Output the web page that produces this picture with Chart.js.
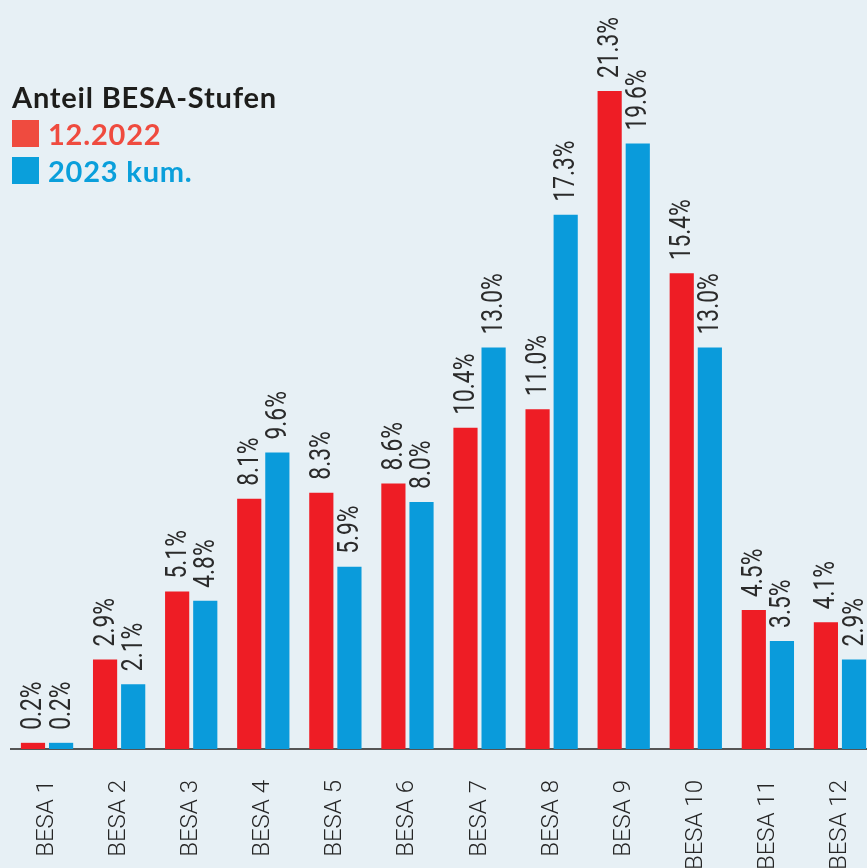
<!DOCTYPE html>
<html>
<head>
<meta charset="utf-8">
<script src="https://cdn.jsdelivr.net/npm/chart.js@4/dist/chart.umd.min.js"></script>
<style>
  html, body { margin: 0; padding: 0; background: #e7f0f5; overflow: hidden; }
  #wrap { position: relative; width: 867px; height: 868px; overflow: hidden; }
  #chart_box { position: absolute; left: 0; top: 0; width: 876px; height: 868px; }
  #legend { position: absolute; left: 12px; top: 78px; font-family: Lato, "Open Sans", sans-serif; font-weight: 700; font-size: 29px; line-height: 37px; letter-spacing: 0.8px; }
  #legend .title { color: #1d1d1b; }
  #legend .row { display: flex; align-items: center; }
  #legend .sq { display: inline-block; width: 27px; height: 27px; margin-right: 9px; }
</style>
</head>
<body>
<div id="wrap">
  <div id="chart_box"><canvas id="chart_1" width="876" height="868"></canvas></div>
  <div id="legend">
    <div class="title">Anteil BESA-Stufen</div>
    <div class="row" style="color:#ef4b3f"><span class="sq" style="background:#ef4b3f"></span>12.2022</div>
    <div class="row" style="color:#0a9fdb"><span class="sq" style="background:#0a9fdb"></span>2023 kum.</div>
  </div>
</div>
<script>
    const labels = ['BESA 1', 'BESA 2', 'BESA 3', 'BESA 4', 'BESA 5', 'BESA 6', 'BESA 7', 'BESA 8', 'BESA 9', 'BESA 10', 'BESA 11', 'BESA 12'];
    const values_2022 = [0.2, 2.9, 5.1, 8.1, 8.3, 8.6, 10.4, 11.0, 21.3, 15.4, 4.5, 4.1];
    const values_2023 = [0.2, 2.1, 4.8, 9.6, 5.9, 8.0, 13.0, 17.3, 19.6, 13.0, 3.5, 2.9];
    const series_names = ['12.2022', '2023 kum.'];

    //draws the rotated percent labels above each bar (condensed look)
    const value_labels = {
        id: 'value_labels',
        afterDatasetsDraw(chart) {
            const ctx = chart.ctx;
            ctx.save();
            ctx.font = '30px Roboto';
            ctx.fillStyle = '#2b2b2b';
            ctx.textAlign = 'left';
            ctx.textBaseline = 'middle';
            chart.data.datasets.forEach((ds, i) => {
                chart.getDatasetMeta(i).data.forEach((bar, j) => {
                    ctx.save();
                    ctx.translate(bar.x, bar.y - 13);
                    ctx.rotate(-Math.PI / 2);
                    ctx.scale(0.76, 1);
                    ctx.fillText(ds.data[j].toFixed(1) + '%', 0, 1);
                    ctx.restore();
                });
            });
            ctx.restore();
        }
    };

    const ctx = document.getElementById('chart_1').getContext('2d');
    const chart = new Chart(ctx, {
        type: 'bar',
        data: {
            labels: labels,
            datasets: [
                { label: series_names[0], data: values_2022, backgroundColor: '#ee1d25' },
                { label: series_names[1], data: values_2023, backgroundColor: '#0a9bdb' }
            ]
        },
        options: {
            responsive: false,
            animation: false,
            layout: { padding: { left: 11, right: 0, top: 0, bottom: 0 } },
            categoryPercentage: 0.78,
            barPercentage: 0.86,
            plugins: { legend: { display: false }, tooltip: { enabled: false } },
            scales: {
                y: { display: false, min: 0, max: 24.25 },
                x: {
                    grid: { display: false, drawTicks: false },
                    border: { color: '#555', width: 2 },
                    ticks: {
                        autoSkip: false,
                        minRotation: 90,
                        maxRotation: 90,
                        padding: 31,
                        color: '#262626',
                        font: { family: 'Roboto', size: 24, weight: '300' }
                    },
                    afterFit: s => { s.height = 119; s.paddingLeft = 0; s.paddingRight = 0; }
                }
            }
        },
        plugins: [value_labels]
    });
</script>
</body>
</html>
